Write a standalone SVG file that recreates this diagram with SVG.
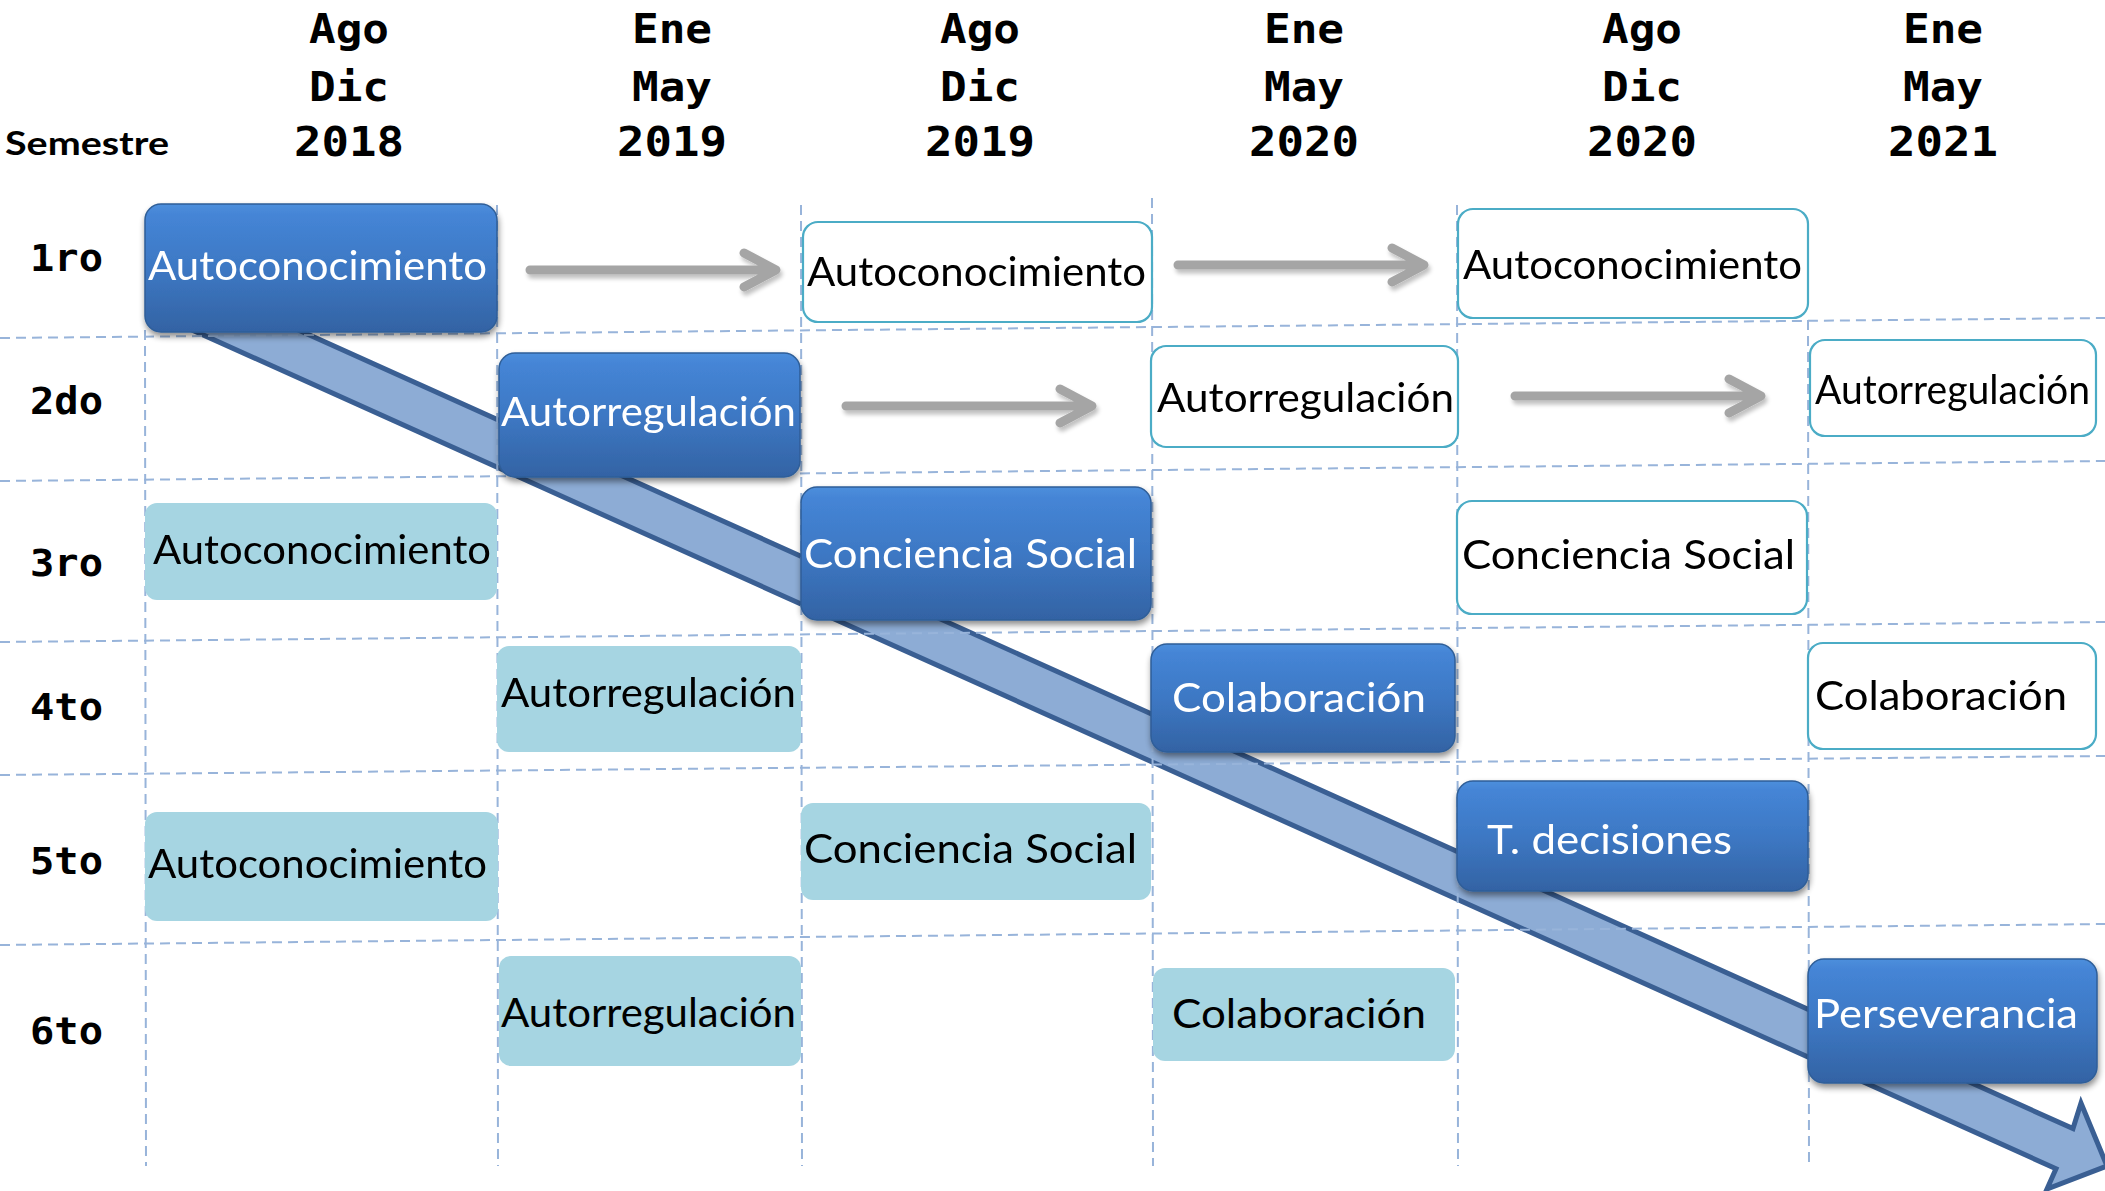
<svg xmlns="http://www.w3.org/2000/svg" xmlns:xlink="http://www.w3.org/1999/xlink" width="2105" height="1191" viewBox="0 0 2105 1191">
<style>
.hdr{font-family:"DejaVu Sans Mono",monospace;font-weight:bold;font-size:40px;fill:#000;text-anchor:middle}
.row{font-family:"DejaVu Sans Mono",monospace;font-weight:bold;font-size:37px;fill:#000}
.sem{font-family:"Lato","Open Sans",sans-serif;font-weight:bold;font-size:32px;fill:#000}
.lbl{font-family:"Lato","Open Sans",sans-serif;font-size:41px}
.wt{fill:#fff}
.bk{fill:#000}
.grid line{stroke:#98b4da;stroke-width:2;stroke-dasharray:10 6}
.blue{fill:url(#gBlue);stroke:#2f5e98;stroke-width:1.5}
.light{fill:#a6d5e2}
.white{fill:#fff;stroke:#4bacc6;stroke-width:2.2}
.garrow{fill:none;stroke:#a5a5a5;stroke-width:9;stroke-linecap:round;stroke-linejoin:round}
</style>
<defs>
<linearGradient id="gBlue" x1="0" y1="0" x2="0" y2="1">
<stop offset="0" stop-color="#4d8fdc"/>
<stop offset="0.08" stop-color="#4585d6"/>
<stop offset="0.5" stop-color="#3d78c4"/>
<stop offset="1" stop-color="#3363a4"/>
</linearGradient>
<filter id="sh" x="-10%" y="-10%" width="120%" height="140%">
<feGaussianBlur in="SourceAlpha" stdDeviation="3"/>
<feOffset dx="1" dy="4" result="o"/>
<feComponentTransfer><feFuncA type="linear" slope="0.45"/></feComponentTransfer>
<feMerge><feMergeNode/><feMergeNode in="SourceGraphic"/></feMerge>
</filter>
<filter id="ash" x="-5%" y="-50%" width="110%" height="200%">
<feGaussianBlur in="SourceAlpha" stdDeviation="2"/>
<feOffset dx="2" dy="4"/>
<feComponentTransfer><feFuncA type="linear" slope="0.25"/></feComponentTransfer>
<feMerge><feMergeNode/><feMergeNode in="SourceGraphic"/></feMerge>
</filter>
<path id="ga" d="M0,0 H243 M214,-17 L246,0 L214,17"/>
</defs>
<rect width="2105" height="1191" fill="#fff"/>

<g id="header">
<text class="sem" x="5" y="155" textLength="164" lengthAdjust="spacingAndGlyphs">Semestre</text>
<text class="hdr" x="349" y="43" textLength="80" lengthAdjust="spacingAndGlyphs">Ago</text>
<text class="hdr" x="349" y="101" textLength="80" lengthAdjust="spacingAndGlyphs">Dic</text>
<text class="hdr" x="349" y="156" textLength="110" lengthAdjust="spacingAndGlyphs">2018</text>
<text class="hdr" x="672" y="43" textLength="80" lengthAdjust="spacingAndGlyphs">Ene</text>
<text class="hdr" x="672" y="101" textLength="80" lengthAdjust="spacingAndGlyphs">May</text>
<text class="hdr" x="672" y="156" textLength="110" lengthAdjust="spacingAndGlyphs">2019</text>
<text class="hdr" x="980" y="43" textLength="80" lengthAdjust="spacingAndGlyphs">Ago</text>
<text class="hdr" x="980" y="101" textLength="80" lengthAdjust="spacingAndGlyphs">Dic</text>
<text class="hdr" x="980" y="156" textLength="110" lengthAdjust="spacingAndGlyphs">2019</text>
<text class="hdr" x="1304" y="43" textLength="80" lengthAdjust="spacingAndGlyphs">Ene</text>
<text class="hdr" x="1304" y="101" textLength="80" lengthAdjust="spacingAndGlyphs">May</text>
<text class="hdr" x="1304" y="156" textLength="110" lengthAdjust="spacingAndGlyphs">2020</text>
<text class="hdr" x="1642" y="43" textLength="80" lengthAdjust="spacingAndGlyphs">Ago</text>
<text class="hdr" x="1642" y="101" textLength="80" lengthAdjust="spacingAndGlyphs">Dic</text>
<text class="hdr" x="1642" y="156" textLength="110" lengthAdjust="spacingAndGlyphs">2020</text>
<text class="hdr" x="1943" y="43" textLength="80" lengthAdjust="spacingAndGlyphs">Ene</text>
<text class="hdr" x="1943" y="101" textLength="80" lengthAdjust="spacingAndGlyphs">May</text>
<text class="hdr" x="1943" y="156" textLength="110" lengthAdjust="spacingAndGlyphs">2021</text>
</g>

<g id="rows">
<text class="row" x="30" y="271" textLength="73" lengthAdjust="spacingAndGlyphs">1ro</text>
<text class="row" x="30" y="414" textLength="73" lengthAdjust="spacingAndGlyphs">2do</text>
<text class="row" x="30" y="576" textLength="73" lengthAdjust="spacingAndGlyphs">3ro</text>
<text class="row" x="30" y="720" textLength="73" lengthAdjust="spacingAndGlyphs">4to</text>
<text class="row" x="30" y="874" textLength="73" lengthAdjust="spacingAndGlyphs">5to</text>
<text class="row" x="30" y="1044" textLength="73" lengthAdjust="spacingAndGlyphs">6to</text>
</g>

<g id="big-arrow">
<polygon points="180,276.8 2073,1128.6 2081,1103 2107,1166 2047,1189 2056,1168.7 162,316.4" fill="#8dacd5" stroke="#3a5f93" stroke-width="5" stroke-linejoin="miter"/>
</g>

<g class="grid" id="grid">
<line x1="0" y1="338" x2="2105" y2="318"/>
<line x1="0" y1="481" x2="2105" y2="461"/>
<line x1="0" y1="642" x2="2105" y2="622"/>
<line x1="0" y1="775" x2="2105" y2="756"/>
<line x1="0" y1="945" x2="2105" y2="924"/>
<line x1="145" y1="330" x2="146" y2="1166"/>
<line x1="497" y1="205" x2="498" y2="1166"/>
<line x1="801" y1="205" x2="802" y2="1166"/>
<line x1="1152" y1="198" x2="1153" y2="1166"/>
<line x1="1457" y1="205" x2="1458" y2="1166"/>
<line x1="1808" y1="320" x2="1809" y2="1166"/>
</g>

<g id="connectors" class="garrow" filter="url(#ash)">
<use xlink:href="#ga" x="530" y="270"/>
<use xlink:href="#ga" x="1178" y="265"/>
<use xlink:href="#ga" x="846" y="406"/>
<use xlink:href="#ga" x="1515" y="396"/>
</g>

<g id="n-b1" filter="url(#sh)"><rect class="blue" x="145" y="204" width="352" height="128" rx="16"/><text class="lbl wt" x="148" y="280" textLength="339" lengthAdjust="spacingAndGlyphs">Autoconocimiento</text></g>
<g id="n-w1"><rect class="white" x="803" y="222" width="349" height="100" rx="15"/><text class="lbl bk" x="807" y="286" textLength="339" lengthAdjust="spacingAndGlyphs">Autoconocimiento</text></g>
<g id="n-w2"><rect class="white" x="1458" y="209" width="350" height="109" rx="15"/><text class="lbl bk" x="1463" y="279" textLength="339" lengthAdjust="spacingAndGlyphs">Autoconocimiento</text></g>

<g id="n-b2" filter="url(#sh)"><rect class="blue" x="499" y="353" width="301" height="124" rx="16"/><text class="lbl wt" x="501" y="426" textLength="295" lengthAdjust="spacingAndGlyphs">Autorregulación</text></g>
<g id="n-w3"><rect class="white" x="1151" y="346" width="307" height="101" rx="15"/><text class="lbl bk" x="1157" y="412" textLength="297" lengthAdjust="spacingAndGlyphs">Autorregulación</text></g>
<g id="n-w4"><rect class="white" x="1810" y="340" width="286" height="96" rx="15"/><text class="lbl bk" x="1815" y="404" textLength="275" lengthAdjust="spacingAndGlyphs" font-size="39">Autorregulación</text></g>

<g id="n-l1"><rect class="light" x="145" y="503" width="352" height="97" rx="12"/><text class="lbl bk" x="153" y="564" textLength="338" lengthAdjust="spacingAndGlyphs">Autoconocimiento</text></g>
<g id="n-b3" filter="url(#sh)"><rect class="blue" x="801" y="487" width="350" height="133" rx="16"/><text class="lbl wt" x="804" y="568" textLength="333" lengthAdjust="spacingAndGlyphs">Conciencia Social</text></g>
<g id="n-w5"><rect class="white" x="1457" y="501" width="350" height="113" rx="15"/><text class="lbl bk" x="1462" y="569" textLength="333" lengthAdjust="spacingAndGlyphs">Conciencia Social</text></g>

<g id="n-l2"><rect class="light" x="497" y="646" width="304" height="106" rx="12"/><text class="lbl bk" x="501" y="707" textLength="295" lengthAdjust="spacingAndGlyphs">Autorregulación</text></g>
<g id="n-b4" filter="url(#sh)"><rect class="blue" x="1151" y="644" width="304" height="108" rx="16"/><text class="lbl wt" x="1172" y="712" textLength="254" lengthAdjust="spacingAndGlyphs">Colaboración</text></g>
<g id="n-w6"><rect class="white" x="1808" y="643" width="288" height="106" rx="15"/><text class="lbl bk" x="1815" y="710" textLength="252" lengthAdjust="spacingAndGlyphs">Colaboración</text></g>

<g id="n-l3"><rect class="light" x="145" y="812" width="353" height="109" rx="12"/><text class="lbl bk" x="148" y="878" textLength="339" lengthAdjust="spacingAndGlyphs">Autoconocimiento</text></g>
<g id="n-l4"><rect class="light" x="801" y="803" width="350" height="97" rx="12"/><text class="lbl bk" x="804" y="863" textLength="333" lengthAdjust="spacingAndGlyphs">Conciencia Social</text></g>
<g id="n-b5" filter="url(#sh)"><rect class="blue" x="1457" y="781" width="351" height="110" rx="16"/><text class="lbl wt" x="1487" y="854" textLength="245" lengthAdjust="spacingAndGlyphs">T. decisiones</text></g>

<g id="n-l5"><rect class="light" x="499" y="956" width="302" height="110" rx="12"/><text class="lbl bk" x="501" y="1027" textLength="295" lengthAdjust="spacingAndGlyphs">Autorregulación</text></g>
<g id="n-l6"><rect class="light" x="1153" y="968" width="302" height="93" rx="12"/><text class="lbl bk" x="1172" y="1028" textLength="254" lengthAdjust="spacingAndGlyphs">Colaboración</text></g>
<g id="n-b6" filter="url(#sh)"><rect class="blue" x="1808" y="959" width="289" height="124" rx="16"/><text class="lbl wt" x="1814" y="1028" textLength="264" lengthAdjust="spacingAndGlyphs">Perseverancia</text></g>
</svg>
